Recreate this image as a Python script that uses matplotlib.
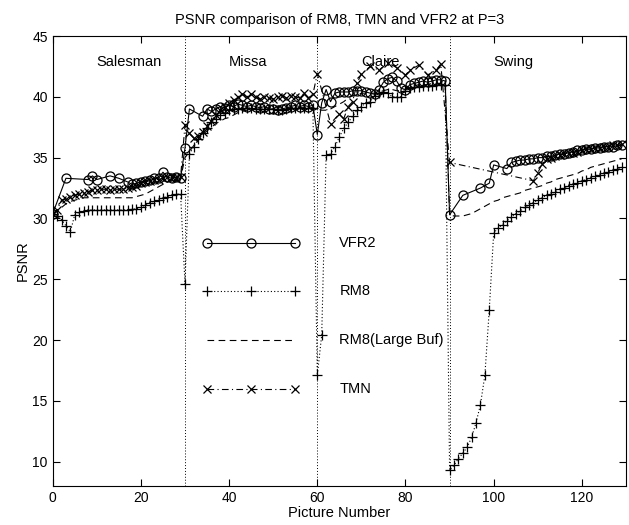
import matplotlib
matplotlib.use("Agg")
import matplotlib.pyplot as plt

plt.rcParams['font.family'] = ['Liberation Sans', 'DejaVu Sans']

# ---------------- data ----------------
frames_all = list(range(130))

rm8_y = [30.4, 30.2, 29.9, 29.4, 28.9, 30.3, 30.5, 30.6, 30.7, 30.7,
         30.7, 30.7, 30.7, 30.7, 30.7, 30.7, 30.7, 30.7, 30.75, 30.8,
         30.9, 31.1, 31.3, 31.4, 31.5, 31.7, 31.8, 31.9, 32.0, 32.0,
         24.6, 35.3, 35.9, 36.5, 37.0, 37.4, 37.9, 38.2, 38.5, 38.7,
         38.9, 39.0, 39.0, 39.1, 39.1, 39.1, 39.0, 39.0, 39.0, 39.0,
         39.0, 38.9, 38.9, 39.0, 39.1, 39.1, 39.1, 39.1, 39.1, 39.1,
         17.1, 20.4, 35.2, 35.3, 35.9, 36.7, 37.4, 37.9, 38.4, 38.9,
         39.2, 39.5, 39.6, 40.1, 40.3, 40.4, 40.3, 40.0, 40.0, 40.0,
         40.5, 40.7, 40.8, 40.8, 40.9, 40.9, 40.9, 41.0, 41.0, 41.0,
         9.3, 9.7, 10.25, 10.7, 11.2, 12.0, 13.2, 14.7, 17.1, 22.5,
         28.8, 29.2, 29.5, 29.8, 30.1, 30.4, 30.6, 30.9, 31.1, 31.3,
         31.5, 31.7, 31.9, 32.0, 32.2, 32.4, 32.5, 32.7, 32.8, 32.95,
         33.1, 33.2, 33.35, 33.5, 33.6, 33.7, 33.85, 33.95, 34.05, 34.2]

largebuf_y = [30.4, 30.6, 30.9, 31.2, 31.4, 31.5, 31.6, 31.7, 31.7, 31.7,
              31.7, 31.7, 31.7, 31.7, 31.7, 31.7, 31.7, 31.7, 31.7, 31.8,
              31.9, 32.0, 32.2, 32.4, 32.6, 32.8, 33.0, 33.1, 33.2, 33.3,
              35.0, 35.5, 36.0, 36.5, 36.9, 37.2, 37.5, 37.8, 38.0, 38.2,
              38.3, 38.5, 38.7, 38.8, 38.9, 39.0, 39.0, 39.0, 39.1, 39.1,
              39.1, 39.1, 39.1, 39.1, 39.1, 39.1, 39.1, 39.1, 39.1, 39.1,
              39.0, 38.9, 38.9, 39.0, 39.2, 39.4, 39.6, 39.9, 40.1, 40.2,
              40.3, 40.3, 40.3, 40.3, 40.4, 40.5, 40.6, 40.6, 40.5, 40.5,
              40.6, 40.8, 40.9, 41.0, 41.0, 41.0, 41.1, 41.1, 41.1, 41.1,
              30.3, 30.2, 30.2, 30.2, 30.3, 30.4, 30.6, 30.8, 31.0, 31.2,
              31.4, 31.5, 31.7, 31.8, 31.9, 32.0, 32.1, 32.3, 32.4, 32.5,
              32.6, 32.7, 32.9, 33.0, 33.2, 33.3, 33.4, 33.5, 33.6, 33.7,
              33.9, 34.0, 34.2, 34.3, 34.4, 34.5, 34.6, 34.7, 34.8, 34.9]

vfr2_x = [0, 3, 8, 9, 10, 13, 15, 17, 18, 19, 20, 21, 22, 23, 24, 25, 26, 27, 28, 29,
          30, 31, 34, 35, 36, 37, 38, 39, 40, 41, 42, 43, 44, 45, 46, 47, 48, 49,
          50, 51, 52, 53, 54, 55, 56, 57, 58, 59,
          60, 61, 62, 63, 64, 65, 66, 67, 68, 69, 70, 71, 72, 73, 74, 75, 76, 77,
          78, 79, 80, 81, 82, 83, 84, 85, 86, 87, 88, 89,
          90, 93, 97, 99, 100, 103, 104, 105, 106, 107, 108, 109, 110, 111, 112,
          113, 114, 115, 116, 117, 118, 119, 120, 121, 122, 123, 124, 125, 126,
          127, 128, 129]
vfr2_y = [30.4, 33.3, 33.2, 33.5, 33.2, 33.5, 33.3, 33.0, 32.8, 32.9, 33.0, 33.1, 33.2,
          33.3, 33.3, 33.8, 33.4, 33.3, 33.4, 33.3,
          35.8, 39.0, 38.4, 39.0, 38.8, 39.0, 39.2, 39.1, 39.3, 39.2, 39.4, 39.3, 39.2,
          39.3, 39.2, 39.1, 39.2, 39.0, 39.0, 38.9, 39.0, 39.1, 39.2, 39.3, 39.2, 39.3,
          39.2, 39.3,
          36.9, 39.5, 40.6, 39.6, 40.3, 40.4, 40.4, 40.4, 40.5, 40.5, 40.5, 40.4, 40.3,
          40.2, 40.6, 41.2, 41.5, 41.6, 41.3, 40.7, 40.6, 41.0, 41.1, 41.2, 41.3, 41.2,
          41.3, 41.4, 41.4, 41.3,
          30.3, 31.9, 32.5, 32.9, 34.4, 34.1, 34.6, 34.7, 34.8, 34.8, 34.9, 34.9, 35.0,
          35.0, 35.1, 35.1, 35.2, 35.3, 35.3, 35.4, 35.5, 35.6, 35.6, 35.7, 35.7, 35.8,
          35.8, 35.9, 35.9, 35.9, 36.0, 36.0]

tmn_x = list(range(0, 61)) + [63, 65, 66, 67, 68, 69, 70, 72, 74, 76, 78, 80, 81, 83,
                              85, 87, 88, 90, 109, 110, 111] + list(range(112, 130))
tmn_y = [30.4, 30.7, 31.5, 31.6, 31.8, 31.9, 32.0, 32.1, 32.2, 32.3,
         32.3, 32.4, 32.4, 32.3, 32.4, 32.4, 32.4, 32.5, 32.6, 32.7,
         32.9, 33.0, 33.1, 33.2, 33.2, 33.3, 33.4, 33.4, 33.3, 33.4,
         37.7, 37.0, 36.6, 36.8, 37.1, 37.6, 38.0, 38.5, 38.9, 39.2,
         39.5, 39.7, 40.0, 40.2, 40.0, 40.2, 40.0, 39.8, 40.0, 39.9,
         39.8, 40.0, 40.1, 39.9, 40.1, 40.0, 39.9, 40.3, 39.9, 40.2,
         41.9,
         37.8, 38.6, 38.2, 39.2, 39.6, 41.1, 41.9, 42.5, 42.2, 42.8, 42.4, 41.8, 42.2,
         42.6, 41.8, 42.2, 42.7,
         34.6, 33.1, 33.75, 34.5,
         34.9, 35.0, 35.1, 35.2, 35.3, 35.4, 35.4, 35.5, 35.6, 35.7, 35.7, 35.8, 35.8,
         35.9, 35.9, 36.0, 36.0, 36.1]

scene_names = ["Salesman", "Missa", "Claire", "Swing"]
scene_starts = [10, 40, 70, 100]
scene_bounds = [30, 60, 90]

legend_labels = ["VFR2", "RM8", "RM8(Large Buf)", "TMN"]
legend_levels = [28, 24, 20, 16]
legend_x = [35, 45, 55]

# ---------------- figure ----------------
fig = plt.figure(figsize=(6.29, 5.25), dpi=100)
ax = fig.add_axes([0.0838, 0.0743, 0.9114, 0.8571])

lw = 0.8
for b in scene_bounds:
    ax.axvline(b, color='black', linestyle=(0, (1, 2)), linewidth=0.7)

ax.plot(frames_all, largebuf_y, color='black', linestyle=(0, (6, 4)), linewidth=lw)
ax.plot(frames_all, rm8_y, color='black', linestyle=(0, (1, 2)), linewidth=lw,
        marker='+', markersize=7, markeredgewidth=0.9)
ax.plot(tmn_x, tmn_y, color='black', linestyle=(0, (6, 3, 1, 3)), linewidth=lw,
        marker='x', markersize=6, markeredgewidth=0.9)
ax.plot(vfr2_x, vfr2_y, color='black', linestyle='-', linewidth=lw,
        marker='o', markersize=6.5, markerfacecolor='none', markeredgewidth=0.9)

# in-plot legend drawn as lines
styles = [dict(linestyle='-', marker='o', markersize=6.5, markerfacecolor='none'),
          dict(linestyle=(0, (1, 2)), marker='+', markersize=7),
          dict(linestyle=(0, (6, 4))),
          dict(linestyle=(0, (6, 3, 1, 3)), marker='x', markersize=6)]
for lab, lev, st in zip(legend_labels, legend_levels, styles):
    ax.plot(legend_x, [lev] * len(legend_x), color='black', linewidth=lw,
            markeredgewidth=0.9, **st)
    ax.text(65, lev, lab, fontsize=10.5, va='center', ha='left')

for name, xs in zip(scene_names, scene_starts):
    ax.text(xs, 42.9, name, fontsize=10.5, va='center', ha='left')

ax.set_xlim(0, 130)
ax.set_ylim(8, 45)
ax.set_xticks(range(0, 121, 20))
ax.set_yticks(range(10, 46, 5))
ax.tick_params(direction='in', top=True, right=True, labelsize=10, length=5, width=0.8)
for s in ax.spines.values():
    s.set_linewidth(0.8)
ax.set_xlabel("Picture Number", fontsize=10.5, labelpad=1)
ax.set_ylabel("PSNR", fontsize=10.5, labelpad=2)
ax.set_title("PSNR comparison of RM8, TMN and VFR2 at P=3", fontsize=10.5, pad=9)

fig.savefig("out.png", dpi=100)
